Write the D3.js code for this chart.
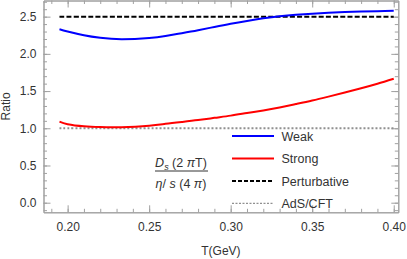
<!DOCTYPE html>
<html>
<head>
<meta charset="utf-8">
<script src="https://cdn.jsdelivr.net/npm/d3@7"></script>
<style>
  body { margin: 0; background: #fff; }
  svg { display: block; font-family: "Liberation Sans", Arial, sans-serif; }
</style>
</head>
<body>
<div id="chart"></div>
<script>
// data
const temps  = [0.195, 0.20, 0.21, 0.22, 0.233, 0.25, 0.26, 0.27, 0.28, 0.29, 0.30, 0.31, 0.32, 0.33, 0.34, 0.35, 0.36, 0.37, 0.38, 0.39, 0.40];
const weak   = [2.33, 2.30, 2.25, 2.215, 2.195, 2.212, 2.24, 2.278, 2.318, 2.362, 2.405, 2.443, 2.477, 2.505, 2.525, 2.54, 2.553, 2.562, 2.569, 2.574, 2.578];
const strong = [1.09, 1.055, 1.027, 1.016, 1.015, 1.035, 1.06, 1.085, 1.11, 1.14, 1.17, 1.205, 1.24, 1.28, 1.325, 1.372, 1.425, 1.48, 1.537, 1.598, 1.665];
const perturbative = temps.map(() => 2.5);
const adsCft = temps.map(() => 1.0);

const xTicks = [0.20, 0.25, 0.30, 0.35, 0.40];
const yTicks = [0.0, 0.5, 1.0, 1.5, 2.0, 2.5];
const legendNames = ["Weak", "Strong", "Perturbative", "AdS/CFT"];

const width = 407, height = 259;
const frameColor = "#a0a0a0";
const textColor = "#333";

const svg = d3.select("#chart").append("svg")
  .attr("width", width)
  .attr("height", height);

const x = d3.scaleLinear().domain([0.1852, 0.4028]).range([43.5, 398.3]);
const y = d3.scaleLinear().domain([-0.129, 2.717]).range([212.3, 0.5]);

const minorX = d3.range(0.19, 0.4001, 0.01).map(v => +v.toFixed(2));
const minorY = d3.range(-0.1, 2.7001, 0.1).map(v => +v.toFixed(1));

function styleAxis(g) {
  g.select(".domain").attr("stroke", frameColor);
  g.selectAll(".tick line").attr("stroke", frameColor);
  g.selectAll("text").attr("fill", textColor).style("font-size", "12px");
}

// bottom
svg.append("g").attr("transform", `translate(0,${y.range()[0]})`)
  .call(d3.axisBottom(x).tickValues(minorX).tickFormat("").tickSizeInner(-3.5).tickSizeOuter(0))
  .call(styleAxis);
svg.append("g").attr("transform", `translate(0,${y.range()[0]})`)
  .call(d3.axisBottom(x).tickValues(xTicks).tickFormat(d3.format(".2f")).tickSizeInner(-7).tickSizeOuter(0).tickPadding(10))
  .call(styleAxis);
// top
svg.append("g").attr("transform", `translate(0,${y.range()[1]})`)
  .call(d3.axisTop(x).tickValues(minorX).tickFormat("").tickSizeInner(-3.5).tickSizeOuter(0))
  .call(styleAxis);
svg.append("g").attr("transform", `translate(0,${y.range()[1]})`)
  .call(d3.axisTop(x).tickValues(xTicks).tickFormat("").tickSizeInner(-7).tickSizeOuter(0))
  .call(styleAxis);
// left
svg.append("g").attr("transform", `translate(${x.range()[0]},0)`)
  .call(d3.axisLeft(y).tickValues(minorY).tickFormat("").tickSizeInner(-3.5).tickSizeOuter(0))
  .call(styleAxis);
svg.append("g").attr("transform", `translate(${x.range()[0]},0)`)
  .call(d3.axisLeft(y).tickValues(yTicks).tickFormat(d3.format(".1f")).tickSizeInner(-7).tickSizeOuter(0).tickPadding(7))
  .call(styleAxis);
// right
svg.append("g").attr("transform", `translate(${x.range()[1]},0)`)
  .call(d3.axisRight(y).tickValues(minorY).tickFormat("").tickSizeInner(-3.5).tickSizeOuter(0))
  .call(styleAxis);
svg.append("g").attr("transform", `translate(${x.range()[1]},0)`)
  .call(d3.axisRight(y).tickValues(yTicks).tickFormat("").tickSizeInner(-7).tickSizeOuter(0))
  .call(styleAxis);

// axis titles
svg.append("text")
  .attr("x", (x.range()[0] + x.range()[1]) / 2).attr("y", 255)
  .attr("text-anchor", "middle").attr("fill", textColor).style("font-size", "12px")
  .text("T(GeV)");
svg.append("text")
  .attr("transform", `translate(10,${(y.range()[0] + y.range()[1]) / 2}) rotate(-90)`)
  .attr("text-anchor", "middle").attr("fill", textColor).style("font-size", "12px")
  .text("Ratio");

// series
const series = [
  { vals: weak, color: "#0000ff", width: 2, dash: null },
  { vals: strong, color: "#ff0000", width: 2, dash: null },
  { vals: perturbative, color: "#000", width: 2, dash: "5,2.2" },
  { vals: adsCft, color: "#909090", width: 2, dash: "2,2" }
];

const line = d3.line().curve(d3.curveNatural);

series.slice().reverse().forEach(s => {
  svg.append("path")
    .attr("d", line(temps.map((t, i) => [x(t), y(s.vals[i])])))
    .attr("fill", "none")
    .attr("stroke", s.color)
    .attr("stroke-width", s.width)
    .attr("stroke-dasharray", s.dash);
});

// legend
const legend = svg.append("g");
const rowsY = [136, 158.5, 181, 203.3];
legendNames.forEach((name, i) => {
  const s = series[i];
  legend.append("line")
    .attr("x1", 232).attr("x2", 274)
    .attr("y1", rowsY[i]).attr("y2", rowsY[i])
    .attr("stroke", s.color)
    .attr("stroke-width", i === 3 ? 1.2 : 2)
    .attr("stroke-dasharray", i === 2 ? "4,2" : (i === 3 ? "2,1.5" : null));
  legend.append("text")
    .attr("x", 281.5).attr("y", rowsY[i] + 4.5)
    .attr("fill", textColor).style("font-size", "12.5px")
    .text(name);
});

// formula label
const f = svg.append("g").attr("fill", textColor).style("font-size", "12.5px");
const num = f.append("text").attr("x", 181).attr("y", 167).attr("text-anchor", "middle");
num.append("tspan").attr("font-style", "italic").text("D");
num.append("tspan").attr("font-style", "italic").attr("dy", 2.5).style("font-size", "9px").text("s");
num.append("tspan").attr("dy", -2.5).text(" (2 ");
num.append("tspan").attr("font-style", "italic").text("π");
num.append("tspan").text("T)");
f.append("line").attr("x1", 155).attr("x2", 208).attr("y1", 171).attr("y2", 171)
  .attr("stroke", textColor).attr("stroke-width", 1);
const den = f.append("text").attr("x", 181).attr("y", 187.5).attr("text-anchor", "middle");
den.append("tspan").attr("font-style", "italic").text("η");
den.append("tspan").text("/ ");
den.append("tspan").attr("font-style", "italic").text("s");
den.append("tspan").text(" (4 ");
den.append("tspan").attr("font-style", "italic").text("π");
den.append("tspan").text(")");
</script>
</body>
</html>
